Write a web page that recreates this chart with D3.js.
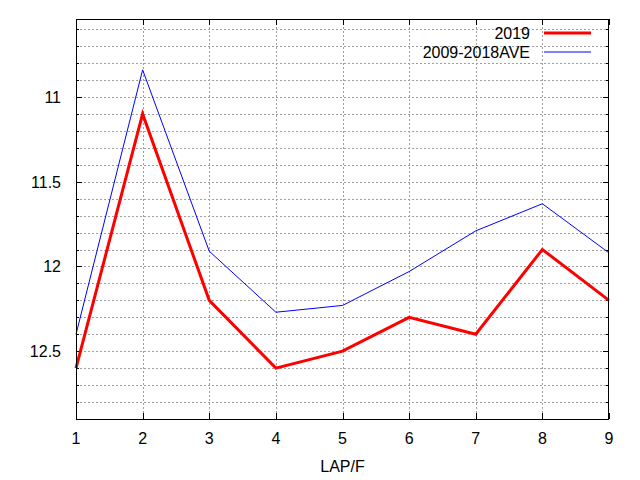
<!DOCTYPE html>
<html><head><meta charset="utf-8">
<script src="https://cdn.jsdelivr.net/npm/d3@7"></script>
<style>body{margin:0;background:#fff}svg{display:block}text{font-family:"Liberation Sans",Arial,sans-serif;font-size:16px;fill:#000}</style>
</head><body><svg id="c" width="640" height="480"></svg>
<script>
const laps = [1,2,3,4,5,6,7,8,9];
const s2019 = [12.6,11.1,12.2,12.6,12.5,12.3,12.4,11.9,12.2];
const sAve = [12.40,10.84,11.91,12.27,12.23,12.03,11.79,11.63,11.92];
const yTicks = [11,11.5,12,12.5];
const yMinor = [10.6,10.7,10.8,10.9,11,11.1,11.2,11.3,11.4,11.5,11.6,11.7,11.8,11.9,12,12.1,12.2,12.3,12.4,12.5,12.6,12.7,12.8];
const seriesNames = ["2019","2009-2018AVE"];

const svg = d3.select("#c");
const L=76, R=609, T=19, B=419;
const x = d3.scaleLinear().domain([1,9]).range([L,R]);
const y = d3.scaleLinear().domain([10.54,12.9]).range([T,B]);

// grid
const g = svg.append("g");
g.selectAll(".hg").data(yMinor).join("line")
  .attr("x1",L).attr("x2",R).attr("y1",d=>Math.round(y(d))+0.5).attr("y2",d=>Math.round(y(d))+0.5)
  .attr("stroke","#a0a0a0").attr("stroke-dasharray","2,2");
g.selectAll(".vg").data(laps.slice(1,-1)).join("line")
  .attr("y1",T).attr("y2",B).attr("x1",d=>Math.round(x(d))+0.5).attr("x2",d=>Math.round(x(d))+0.5)
  .attr("stroke","#a0a0a0").attr("stroke-dasharray","2,2");

// ticks
const tk = svg.append("g").attr("stroke","#000");
yMinor.forEach(v=>{
  const major = yTicks.includes(v);
  const len = major?6:3;
  const yy = Math.round(y(v))+0.5;
  tk.append("line").attr("x1",L).attr("x2",L+len).attr("y1",yy).attr("y2",yy);
  tk.append("line").attr("x1",R-len).attr("x2",R).attr("y1",yy).attr("y2",yy);
});
laps.forEach(v=>{
  const xx = Math.round(x(v))+0.5;
  tk.append("line").attr("x1",xx).attr("x2",xx).attr("y1",B).attr("y2",B-6);
  tk.append("line").attr("x1",xx).attr("x2",xx).attr("y1",T).attr("y2",T+6);
});

// labels
svg.selectAll(".yl").data(yTicks).join("text")
  .attr("x",61).attr("y",d=>y(d)+6).attr("text-anchor","end").text(d=>d);
svg.selectAll(".xl").data(laps).join("text")
  .attr("x",d=>x(d)).attr("y",444).attr("text-anchor","middle").text(d=>d);
svg.append("text").attr("x",(L+R)/2).attr("y",472).attr("text-anchor","middle").text("LAP/F");

// lines
const line = d3.line().x((d,i)=>x(laps[i])).y(d=>y(d));
svg.append("path").datum(sAve).attr("d",line).attr("fill","none").attr("stroke","#0000ff").attr("stroke-width",1);
svg.append("path").datum(s2019).attr("d",line).attr("fill","none").attr("stroke","#ff0000").attr("stroke-width",3);

// border
svg.append("rect").attr("x",L+0.5).attr("y",T+0.5).attr("width",R-L-1).attr("height",B-T).attr("fill","none").attr("stroke","#000");

// legend
const lg = svg.append("g");
const colors=["#ff0000","#0000ff"], widths=[3,1];
seriesNames.forEach((n,i)=>{
  const yy = 33 + i*19;
  lg.append("text").attr("x",530).attr("y",yy+6).attr("text-anchor","end").text(n);
  lg.append("line").attr("x1",544).attr("x2",591).attr("y1",yy).attr("y2",yy).attr("stroke",colors[i]).attr("stroke-width",widths[i]);
});
</script></body></html>
